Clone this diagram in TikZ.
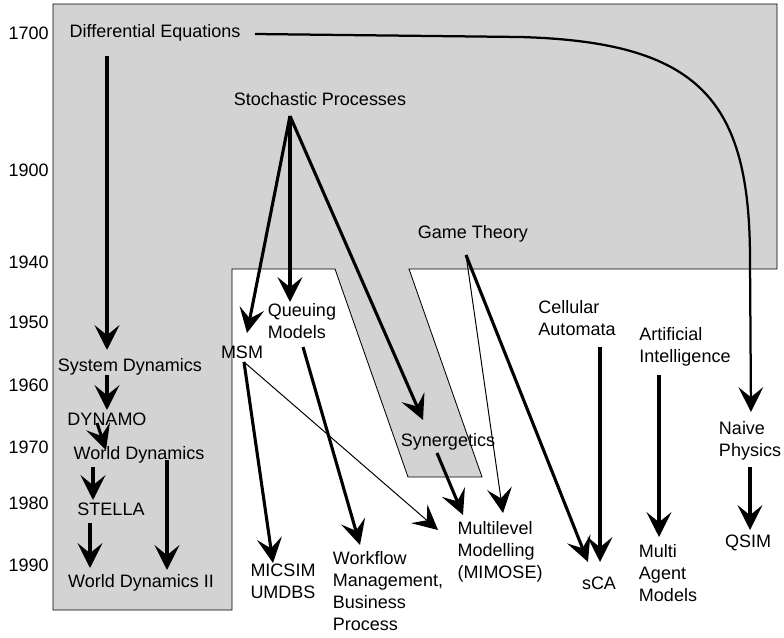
\documentclass[tikz,border=0pt]{standalone}
\usepackage{fontspec}
\setmainfont{Liberation Sans}
\usetikzlibrary{arrows.meta}
\definecolor{bggray}{RGB}{211,211,211}

\begin{document}
\begin{tikzpicture}[%
    x=0.025cm,
    y=-0.025cm,
    item/.style={%
        inner sep=0pt,
        font=\fontsize{12.8}{15.8}\selectfont
    },
    multi/.style={%
        item,
        align=left
    },
    year/.style={%
        item,
        anchor=east
    },
    link/.style={%
        ->,
        line width=2.2pt
    },
    thinlink/.style={%
        ->,
        line width=0.7pt
    },
    >={Stealth[length=6.2mm, width=6.2mm, inset=2.5mm]}
]
\useasboundingbox (0,0) rectangle (784,638);

% Shaded area
\draw[fill=bggray, line width=0.6pt] (53,4) -- (777,4) -- (777,269) -- (409,269)
    -- (482,477) -- (408,477) -- (335,269) -- (232,269) -- (232,610) -- (53,610) -- cycle;

% Years
\node[year] (y1700) at (49,33) {1700};
\node[year] (y1900) at (49,170) {1900};
\node[year] (y1940) at (49,262) {1940};
\node[year] (y1950) at (49,322) {1950};
\node[year] (y1960) at (49,385) {1960};
\node[year] (y1970) at (49,447) {1970};
\node[year] (y1980) at (49,503) {1980};
\node[year] (y1990) at (49,565) {1990};

% Roots
\node[item] (diffeq) at (155,33) {Differential Equations};
\node[item] (stoch) at (320,99) {Stochastic Processes};
\node[item] (game) at (473,234) {Game Theory};
\node[multi] (cellular) at (577,318) {Cellular\\Automata};
\node[multi] (ai) at (685,347) {Artificial\\Intelligence};
\node[multi] (naive) at (750,441) {Naive\\Physics};

% Left column
\node[item] (sysdyn) at (130,367) {System Dynamics};
\node[item] (dynamo) at (107,419) {DYNAMO};
\node[item] (worlddyn) at (139,455) {World Dynamics};
\node[item] (stella) at (111,509) {STELLA};
\node[item] (worlddyn2) at (141,583) {World Dynamics II};

% Middle
\node[multi] (queuing) at (302,321) {Queuing\\Models};
\node[item] (msm) at (242,352) {MSM};
\node[item] (synerg) at (448,442) {Synergetics};
\node[multi] (micsim) at (283,581) {MICSIM\\UMDBS};
\node[multi] (workflow) at (388,591) {Workflow\\Management,\\Business\\Process};
\node[multi] (mimose) at (500,552) {Multilevel\\Modelling\\(MIMOSE)};

% Right
\node[item] (sca) at (599,583) {sCA};
\node[multi] (multiagent) at (668,573) {Multi\\Agent\\Models};
\node[item] (qsim) at (748,543) {QSIM};

% Arrows from the roots
\draw[link] ([shift={(-48,23)}]diffeq.center) -- ([shift={(-23,-17)}]sysdyn.center);
\draw[link, line width=1.6pt] ([shift={(100,1)}]diffeq.center) -- (520,37)
    .. controls (700,42) and (750,100) .. (750,260) -- ([shift={(1,-29)}]naive.center);
\draw[link] ([shift={(-30,17)}]stoch.center) -- ([shift={(5,-19)}]msm.center);
\draw[link] ([shift={(-30,17)}]stoch.center) -- ([shift={(-12,-19)}]queuing.center);
\draw[link] ([shift={(-30,17)}]stoch.center) -- ([shift={(-25,-22)}]synerg.center);
\draw[link] ([shift={(-7,21)}]game.center) -- ([shift={(-11,-21)}]sca.center);
\draw[thinlink] ([shift={(-7,21)}]game.center) -- ([shift={(3,-39)}]mimose.center);
\draw[link] ([shift={(23,29)}]cellular.center) -- ([shift={(1,-21)}]sca.center);
\draw[link] ([shift={(-26,28)}]ai.center) -- ([shift={(-9,-36)}]multiagent.center);
\draw[link] ([shift={(0,26)}]naive.center) -- ([shift={(2,-13)}]qsim.center);

% Arrows in the left column
\draw[link] ([shift={(-23,8)}]sysdyn.center) -- ([shift={(0,-9)}]dynamo.center);
\draw[link] ([shift={(-10,4)}]dynamo.center) -- ([shift={(-33,-5)}]worlddyn.center);
\draw[link] ([shift={(-46,12)}]worlddyn.center) -- ([shift={(-18,-9)}]stella.center);
\draw[link] ([shift={(-21,14)}]stella.center) -- ([shift={(-51,-15)}]worlddyn2.center);
\draw[link] ([shift={(28,5)}]worlddyn.center) -- ([shift={(26,-13)}]worlddyn2.center);

% Arrows in the middle
\draw[link] ([shift={(2,10)}]msm.center) -- ([shift={(-10,-18)}]micsim.center);
\draw[thinlink] ([shift={(2,10)}]msm.center) -- ([shift={(-62,-22)}]mimose.center);
\draw[link] ([shift={(1,26)}]queuing.center) -- ([shift={(-28,-46)}]workflow.center);
\draw[link] ([shift={(-11,11)}]synerg.center) -- ([shift={(-37,-37)}]mimose.center);

\end{tikzpicture}
\end{document}
